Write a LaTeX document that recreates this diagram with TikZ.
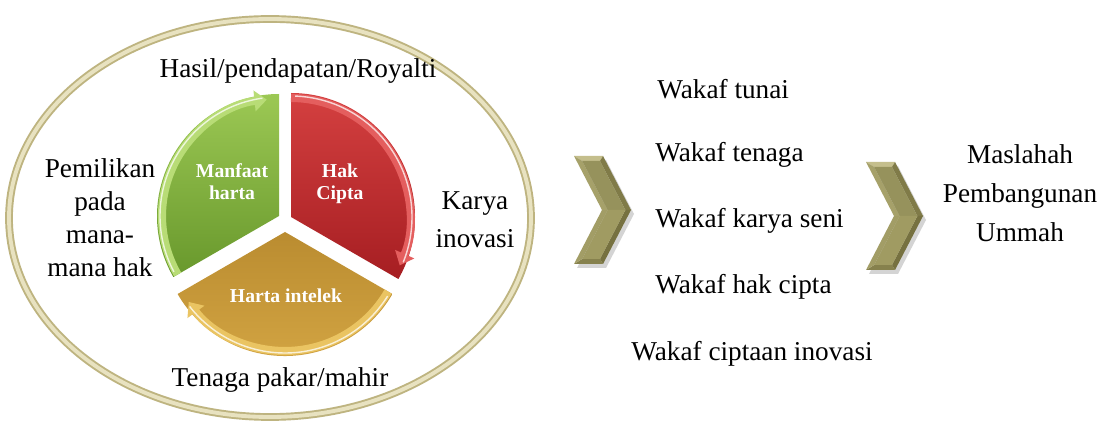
\documentclass[tikz,border=0pt]{standalone}
\usepackage{fontspec}
\setmainfont{Liberation Serif}
\newfontfamily\tnr{Liberation Serif}
\usetikzlibrary{arrows.meta,calc}
\definecolor{ringdark}{RGB}{190,180,128}
\definecolor{ringlight}{RGB}{232,226,192}
\definecolor{gtop}{RGB}{156,200,84}
\definecolor{gbot}{RGB}{104,152,44}
\definecolor{grim}{RGB}{184,220,118}
\definecolor{rtop}{RGB}{212,64,64}
\definecolor{rbot}{RGB}{166,30,34}
\definecolor{rrim}{RGB}{228,94,94}
\definecolor{ytop}{RGB}{186,140,48}
\definecolor{ybot}{RGB}{212,166,68}
\definecolor{yrim}{RGB}{234,196,98}
\definecolor{cvA}{RGB}{196,190,140}
\definecolor{cvB}{RGB}{166,161,106}
\definecolor{cvC}{RGB}{150,146,92}
\definecolor{cvD}{RGB}{128,123,72}
\definecolor{cvE}{RGB}{160,155,98}
\definecolor{cvF}{RGB}{118,113,64}
\definecolor{cvG}{RGB}{134,129,77}
\definecolor{cvH}{RGB}{162,157,102}
\tikzset{
  lbl/.style={font=\tnr\fontsize{15.5}{18.7}\selectfont, inner sep=0pt, anchor=base, text=black},
  inl/.style={font=\tnr\bfseries\fontsize{11.2}{12.5}\selectfont, inner sep=0pt, anchor=base, text=white},
  ring/.style={draw=ringdark, double=ringlight, line width=1.1pt, double distance=2.2pt},
  rimline/.style={line width=4.6pt, -{Triangle[width=11.5pt,length=7pt]}},
  hilite/.style={draw=white, line width=0.8pt, opacity=0.75},
  chev/.pic={
    \fill[black!55, opacity=0.3] (3,4) -- (32,4) -- (60,58) -- (32,112) -- (3,112) -- (31,58) -- cycle;
    \fill[cvA] (0,0) -- (29,0) -- (26,5) -- (8.2,5) -- cycle;
    \fill[cvD] (29,0) -- (57,54) -- (51.4,54) -- (26,5) -- cycle;
    \fill[cvF] (57,54) -- (29,108) -- (26,103) -- (51.4,54) -- cycle;
    \fill[cvG] (29,108) -- (0,108) -- (8.2,103) -- (26,103) -- cycle;
    \fill[cvH] (0,108) -- (28,54) -- (33.6,54) -- (8.2,103) -- cycle;
    \fill[cvB] (28,54) -- (0,0) -- (8.2,5) -- (33.6,54) -- cycle;
    \fill[cvC] (8.2,5) -- (26,5) -- (51.4,54) -- (33.6,54) -- cycle;
    \fill[cvE] (33.6,54) -- (51.4,54) -- (26,103) -- (8.2,103) -- cycle;
  }
}
\begin{document}
\begin{tikzpicture}[x=0.02cm,y=-0.02cm]
\useasboundingbox (0,0) rectangle (1102,425);
\fill[white] (0,0) rectangle (1102,425);

% outer ellipse
\draw[ring] (270,218) ellipse [x radius=261, y radius=199];

% pie segments
\coordinate (G) at (279,216);
\coordinate (R) at (291,217);
\coordinate (Y) at (285,232);

\path[top color=gtop, bottom color=gbot] (G) -- ++(150:122) arc[start angle=150,end angle=270,radius=122] -- cycle;
\draw[rimline, grim] ($(G)+(150:117)$) arc[start angle=150,end angle=264,radius=117];
\draw[hilite] ($(G)+(152:119)$) arc[start angle=152,end angle=262,radius=119];

\path[top color=rtop, bottom color=rbot] (R) -- ++(-90:124) arc[start angle=-90,end angle=30,radius=124] -- cycle;
\draw[rimline, rrim] ($(R)+(-90:119)$) arc[start angle=-90,end angle=24,radius=119];
\draw[hilite] ($(R)+(-88:121)$) arc[start angle=-88,end angle=22,radius=121];

\path[top color=ytop, bottom color=ybot] (Y) -- ++(30:124) arc[start angle=30,end angle=150,radius=124] -- cycle;
\draw[rimline, yrim] ($(Y)+(30:119)$) arc[start angle=30,end angle=144,radius=119];
\draw[hilite] ($(Y)+(32:121)$) arc[start angle=32,end angle=142,radius=121];

% inner labels
\node[inl] (mh) at (232,178) {\begin{tabular}[t]{@{}c@{}}Manfaat\\harta\end{tabular}};
\node[inl] (hc) at (340,178) {\begin{tabular}[t]{@{}c@{}}Hak\\Cipta\end{tabular}};
\node[inl] (hi) at (286,303) {Harta intelek};

% outer labels
\node[lbl] (hasil) at (298,78) {Hasil/pendapatan/Royalti};
\node[lbl] (pem) at (100,178) {\begin{tabular}[t]{@{}c@{}}Pemilikan\\pada\\mana-\\mana hak\end{tabular}};
\node[lbl, font=\tnr\fontsize{15.5}{21.5}\selectfont] (karya) at (475,210) {\begin{tabular}[t]{@{}c@{}}Karya\\inovasi\end{tabular}};
\node[lbl] (tenaga) at (280,387) {Tenaga pakar/mahir};

% chevrons
\pic at (574,156) {chev};
\pic at (866,162) {chev};

% wakaf list
\node[lbl, anchor=base west] (w1) at (657,99) {Wakaf tunai};
\node[lbl, anchor=base west] (w2) at (655,162) {Wakaf tenaga};
\node[lbl, anchor=base west] (w3) at (655,228) {Wakaf karya seni};
\node[lbl, anchor=base west] (w4) at (655,294) {Wakaf hak cipta};
\node[lbl, anchor=base west] (w5) at (631,361) {Wakaf ciptaan inovasi};

% result
\node[lbl, font=\tnr\fontsize{15.5}{22}\selectfont] (mas) at (1020,164) {\begin{tabular}[t]{@{}c@{}}Maslahah\\Pembangunan\\Ummah\end{tabular}};
\end{tikzpicture}
\end{document}
